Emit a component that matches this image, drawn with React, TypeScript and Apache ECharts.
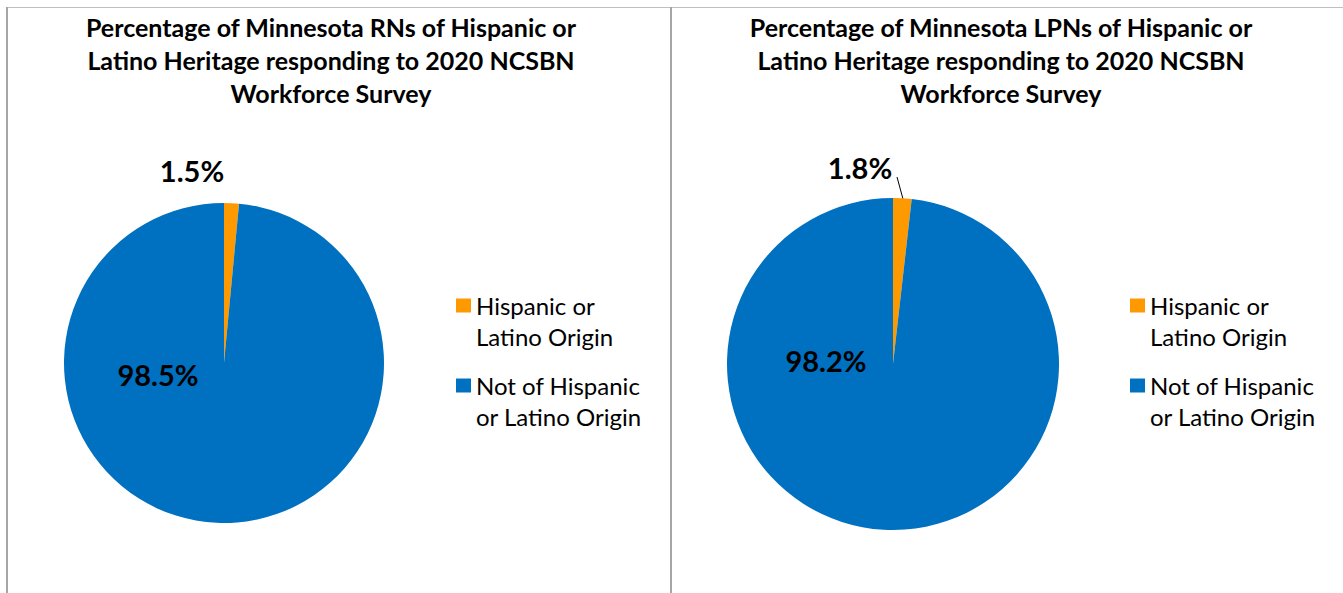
import React, { useEffect, useRef } from "react";
import * as echarts from "echarts";

const categories = ["Hispanic or Latino Origin", "Not of Hispanic or Latino Origin"];
const legendLabels = ["Hispanic or\nLatino Origin", "Not of Hispanic\nor Latino Origin"];
const rnValues = [1.5, 98.5];
const lpnValues = [1.8, 98.2];
const titles = [
  "Percentage of Minnesota RNs of Hispanic or\nLatino Heritage responding to 2020 NCSBN\nWorkforce Survey",
  "Percentage of Minnesota LPNs of Hispanic or\nLatino Heritage responding to 2020 NCSBN\nWorkforce Survey",
];
const colors = ["#FF9900", "#0070C0"];

const FONT = "Lato, 'Open Sans', sans-serif";

export default function App() {
  const ref = useRef<HTMLDivElement>(null);
  useEffect(() => {
    if (!ref.current) return;
    const chart = echarts.init(ref.current, null, { renderer: "svg" });

    const labelPos = [
      [{ x: 192, y: 170 }, { x: 158, y: 374 }],
      [{ x: 860, y: 167 }, { x: 826, y: 360 }],
    ];
    const leader = [null, [[897, 177], [900, 188], [903, 199]]];

    const makeData = (vals: number[], si: number) =>
      vals.map((v, i) => ({
        name: categories[i],
        value: v,
        itemStyle: { color: colors[i] },
        labelLine: { show: i === 0 && si === 1, lineStyle: { color: "#000", width: 1 } },
      }));

    const labelText = {
      show: true,
      position: "outside" as const,
      formatter: (p: any) => p.value.toFixed(1) + "%",
      fontFamily: FONT,
      fontWeight: "bold" as const,
      fontSize: 29,
      color: "#000",
    };

    const makeSeries = (vals: number[], si: number, center: number[], radius: number) => ({
      type: "pie",
      center,
      radius,
      startAngle: 90,
      clockwise: true,
      avoidLabelOverlap: false,
      emphasis: { disabled: true },
      itemStyle: { borderWidth: 0 },
      label: labelText,
      labelLine: { show: false, length: 10, length2: 0 },
      labelLayout: (params: any) => {
        const pos = labelPos[si][params.dataIndex];
        const out: any = { x: pos.x, y: pos.y, align: "center", verticalAlign: "middle" };
        if (params.dataIndex === 0 && leader[si]) out.labelLinePoints = leader[si];
        return out;
      },
      data: makeData(vals, si),
    });

    const legendCommon = {
      orient: "vertical" as const,
      top: 259,
      padding: 0,
      icon: "rect",
      itemWidth: 15,
      itemHeight: 14,
      itemGap: -13,
      selectedMode: false,
      formatter: (name: string) => " \n" + legendLabels[categories.indexOf(name)],
      textStyle: {
        fontFamily: FONT,
        fontSize: 24,
        lineHeight: 31,
        color: "#000",
      },
      data: categories,
    };

    chart.setOption({
      animation: false,
      backgroundColor: "#fff",
      title: titles.map((t, i) => ({
        text: t,
        left: i === 0 ? 331 : 1001,
        top: 10,
        padding: 0,
        textAlign: "center",
        textStyle: {
          fontFamily: FONT,
          fontWeight: "bold",
          fontSize: 25,
          lineHeight: 33,
          color: "#000",
        },
      })),
      legend: [
        { ...legendCommon, left: 456 },
        { ...legendCommon, left: 1130 },
      ],
      graphic: [
        { type: "line", shape: { x1: 7, y1: 7.5, x2: 1343, y2: 7.5 }, style: { stroke: "#BFBFBF", lineWidth: 1 } },
        { type: "line", shape: { x1: 7, y1: 7, x2: 7, y2: 593 }, style: { stroke: "#A6A6A6", lineWidth: 2 } },
        { type: "line", shape: { x1: 671, y1: 7, x2: 671, y2: 593 }, style: { stroke: "#A6A6A6", lineWidth: 2 } },
      ],
      series: [
        makeSeries(rnValues, 0, [224, 363], 160),
        makeSeries(lpnValues, 1, [893, 364], 166),
      ],
    });
    return () => chart.dispose();
  }, []);
  return (
    <div
      ref={ref}
      style={{ position: "fixed", left: 0, top: 0, width: 1343, height: 593 }}
    />
  );
}
